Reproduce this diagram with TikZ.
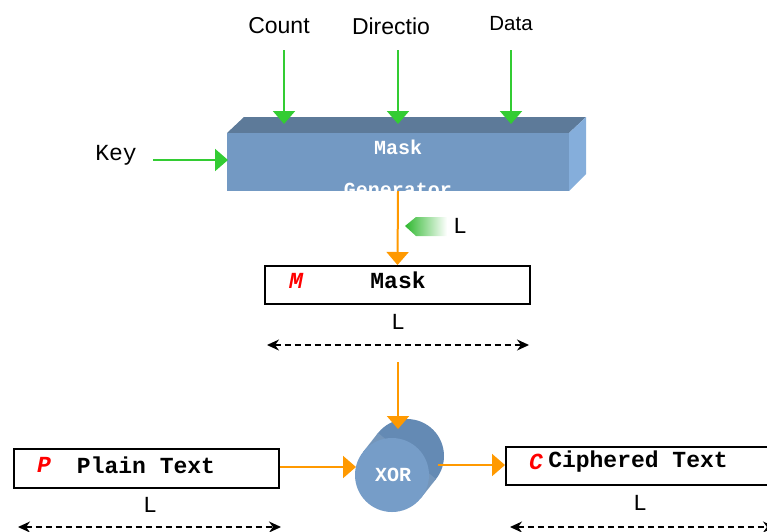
\documentclass[tikz,border=0pt]{standalone}
\usepackage{fontspec}
\usetikzlibrary{arrows.meta,calc}
\newfontfamily\courfont{Liberation Mono}
\newfontfamily\arialfont{Liberation Sans}
\definecolor{grn}{RGB}{51,204,51}
\definecolor{org}{RGB}{255,153,0}
\definecolor{bfront}{RGB}{115,153,195}
\definecolor{btop}{RGB}{93,122,153}
\definecolor{bright}{RGB}{133,174,219}
\definecolor{cfront}{RGB}{118,157,200}
\definecolor{cback}{RGB}{100,138,180}
\tikzset{
  garrow/.style={draw=grn,line width=2pt,-{Triangle[width=22pt,length=13pt]}},
  oarrow/.style={draw=org,line width=2pt,-{Triangle[width=22pt,length=13pt]}},
  dimarrow/.style={line width=1.3pt,dash pattern=on 6pt off 4pt,{Stealth[width=11pt,length=12pt]}-{Stealth[width=11pt,length=12pt]}},
  tbox/.style={draw=black,line width=2pt,fill=white,inner sep=0pt},
  sanslbl/.style={font=\arialfont\fontsize{23}{23}\selectfont,inner sep=0pt},
  monolbl/.style={font=\courfont\fontsize{23}{23}\selectfont,inner sep=0pt},
  monobold/.style={font=\courfont\bfseries\fontsize{23}{23}\selectfont,inner sep=0pt},
  redlet/.style={font=\courfont\bfseries\itshape\fontsize{23}{23}\selectfont,text=red,inner sep=0pt},
}
\begin{document}
\begin{tikzpicture}[x=1pt,y=-1pt]
\useasboundingbox (0,0) rectangle (767,531);
\clip (0,0) rectangle (767,531);
% labels at top
\node[sanslbl] (count) at (279,26) {Count};
\node[sanslbl] (dir) at (391,26) {Directio};
\node[sanslbl,font=\arialfont\fontsize{20.5}{20.5}\selectfont] (data) at (511,24) {Data};
\node[monolbl] (key) at (116,155) {Key};
% 3D box: mask generator
\fill[btop] (227,133) -- (244,117) -- (586,117) -- (569,133) -- cycle;
\fill[bright] (569,133) -- (586,117) -- (586,174) -- (569,191) -- cycle;
\fill[bfront] (227,133) rectangle (569,191);
\coordinate (gtl) at (227,133);
\coordinate (gbr) at (569,191);
\begin{scope}
\clip (gtl) rectangle (gbr);
\node[font=\courfont\bfseries\fontsize{20}{20}\selectfont,text=white,inner sep=0pt] (gm) at (398,147) {Mask};
\node[font=\courfont\bfseries\fontsize{20}{20}\selectfont,text=white,inner sep=0pt,anchor=base] (gg) at (398,196.5) {Generator};
\end{scope}
% green input arrows
\coordinate (c1) at (284,50); \coordinate (c1e) at (284,124);
\coordinate (d1) at (398,50); \coordinate (d1e) at (398,124);
\coordinate (t1) at (511,50); \coordinate (t1e) at (511,124);
\coordinate (k1) at (153,160); \coordinate (k1e) at (228,160);
\draw[garrow] (c1) -- (c1e);
\draw[garrow] (d1) -- (d1e);
\draw[garrow] (t1) -- (t1e);
\draw[garrow] (k1) -- (k1e);
% orange arrow to mask
\coordinate (gout) at (398,191);
\node[tbox,minimum width=265pt,minimum height=38pt] (mask) at (397.5,285) {};
\draw[oarrow] (gout) -- (mask.north);
% fading arrow + L
\shade[left color=grn!90!black,right color=white] (405,226) -- (416,217) -- (447,217) -- (447,236) -- (416,236) -- cycle;
\node[monolbl] (lg) at (460,226) {L};
% mask contents
\node[redlet] (mm) at (296,281) {M};
\node[monobold] (mt) at (398,280) {Mask};
\node[monolbl] (lm) at (398,322) {L};
\coordinate (ma) at (267,345); \coordinate (mb) at (529,345);
\draw[dimarrow] (ma) -- (mb);
% XOR cylinder
\fill[cback] (407,456) circle (37);
\fill[cback!90!white] (421,498) -- (363,452) -- (378,433) -- (436,479) -- cycle;
\foreach \i in {0,0.2,...,1}{\draw[white,opacity=0.08] ($(363,452)!\i!(421,498)$) -- ++(15,-19);}
\fill[cfront] (392,475) circle (37);
\node[font=\courfont\bfseries\fontsize{20}{20}\selectfont,text=white,inner sep=0pt] (xor) at (393,475) {XOR};
\coordinate (xtop) at (398,362); \coordinate (xtope) at (398,429);
\draw[oarrow] (xtop) -- (xtope);
% plain text box
\node[tbox,minimum width=265pt,minimum height=39pt] (plain) at (146.5,468.5) {};
\node[redlet] (pp) at (44,465) {P};
\node[monobold] (pt) at (146,465) {Plain Text};
\node[monolbl] (lp) at (150,505) {L};
\coordinate (pa) at (18,527); \coordinate (pb) at (281,527);
\draw[dimarrow] (pa) -- (pb);
\coordinate (xin) at (356,467);
\draw[oarrow] (plain.east |- xin) -- (xin);
% ciphered text box
\node[tbox,minimum width=270pt,minimum height=38pt] (ciph) at (641,466) {};
\node[redlet] (cc) at (536,462) {C};
\node[monobold] (ct) at (638,462) {Ciphered Text};
\node[monolbl] (lc) at (640,503) {L};
\coordinate (ca) at (510,527); \coordinate (cb) at (775,527);
\draw[dimarrow] (ca) -- (cb);
\coordinate (xout) at (438,465);
\draw[oarrow] (xout) -- (ciph.west |- xout);
\end{tikzpicture}
\end{document}
